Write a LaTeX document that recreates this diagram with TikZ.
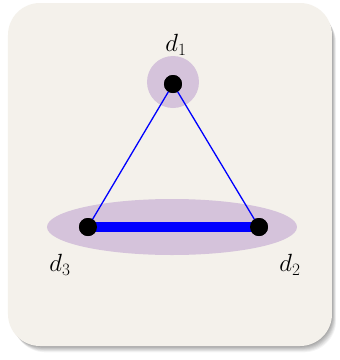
\documentclass[tikz,border=0pt]{standalone}
\begin{document}
\begin{tikzpicture}[x=1pt,y=-1pt,
  dot/.style={circle,fill=black,inner sep=0pt,minimum size=18pt},
  halo/.style={fill=haloc},
  thinedge/.style={blue,line width=1.3pt},
  thickedge/.style={blue,line width=10pt},
  lbl/.style={font=\fontsize{26}{28}\selectfont}]
\definecolor{cardc}{HTML}{F4F1EB}
\definecolor{haloc}{HTML}{D5C3DB}
\useasboundingbox (0,0) rectangle (340,360);
\fill[white] (0,0) rectangle (340,360);
% shadow
\foreach \i/\o in {1/0.06,2/0.06,3/0.06,4/0.06,5/0.05,6/0.05,7/0.04} {
  \fill[black,opacity=\o,rounded corners=32pt] (9+\i*0.6,5+\i*0.9) rectangle (332+\i*0.6,346+\i*0.9);
}
\fill[cardc,rounded corners=32pt] (8,3) rectangle (332,346);
% halos
\fill[halo] (173,82) circle (26);
\fill[halo] (172,227) ellipse (125 and 28);
% nodes
\node[dot] (d1) at (173,84) {};
\node[dot] (d3) at (88,227) {};
\node[dot] (d2) at (259,227) {};
\draw[thickedge] (d3.center) -- (d2.center);
\draw[thinedge] (d1.center) -- (d3.center);
\draw[thinedge] (d1.center) -- (d2.center);
\node[dot] at (d1) {};
\node[dot] at (d3) {};
\node[dot] at (d2) {};
\node[lbl] (l1) at (176,45) {$d_1$};
\node[lbl] (l3) at (60,265) {$d_3$};
\node[lbl] (l2) at (290,265) {$d_2$};
\end{tikzpicture}
\end{document}
